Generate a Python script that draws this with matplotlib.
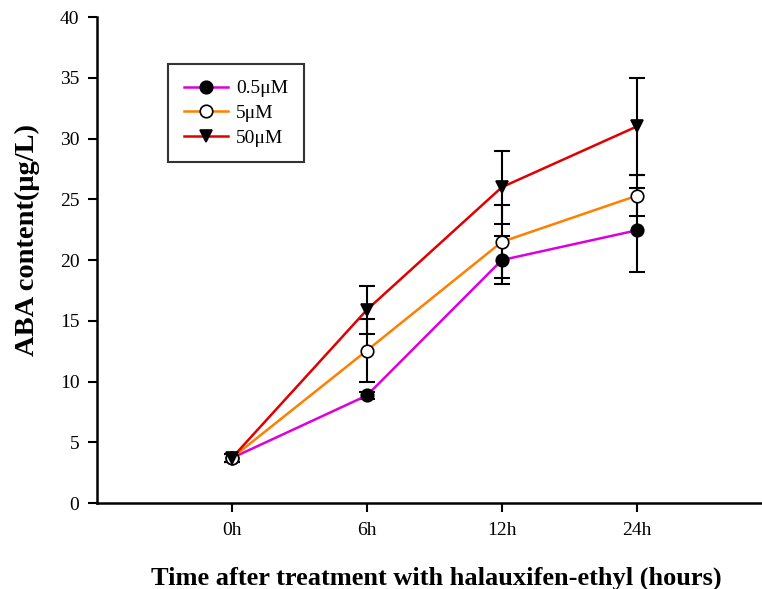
import numpy as np
import matplotlib.pyplot as plt

# Data
times = ["0h", "6h", "12h", "24h"]
low_mean = [3.7, 8.85, 20.0, 22.45]     # 0.5 uM
low_err = [0.3, 0.3, 2.0, 3.45]
mid_mean = [3.7, 12.55, 21.5, 25.3]     # 5 uM
mid_err = [0.3, 2.6, 3.0, 1.7]
high_mean = [3.7, 15.9, 26.0, 31.0]     # 50 uM
high_err = [0.3, 1.95, 3.0, 4.0]

plt.rcParams['font.family'] = ['Liberation Serif', 'DejaVu Serif']

fig = plt.figure(figsize=(7.62, 5.89), dpi=100)
ax = fig.add_axes([0.127, 0.146, 0.873, 0.825])

x = np.arange(len(times))
series = [
    (low_mean, low_err, "#dd00dd", "o", "black", "0.5μM"),
    (mid_mean, mid_err, "#ff8000", "o", "white", "5μM"),
    (high_mean, high_err, "#e00000", "v", "black", "50μM"),
]

for mean, err, col, mk, face, lab in series:
    ax.errorbar(x, mean, yerr=err, fmt="none", ecolor="black",
                elinewidth=1.5, capsize=5.5, capthick=1.5, zorder=2)
    ax.plot(x, mean, color=col, lw=1.8, marker=mk, markersize=9,
            markerfacecolor=face, markeredgecolor="black",
            markeredgewidth=1.2, label=lab, zorder=3)

ax.set_xlim(-1, 3.926)
ax.set_ylim(0, 40)
ax.set_xticks(x)
ax.set_xticklabels(times, fontsize=14)
ax.set_yticks(np.arange(0, 41, 5))
ax.tick_params(axis="y", labelsize=14, direction="out", length=6.5, width=1.5, pad=6)
ax.tick_params(axis="x", direction="out", length=6.5, width=1.5, pad=7)

for s in ["top", "right"]:
    ax.spines[s].set_visible(False)
for s in ["left", "bottom"]:
    ax.spines[s].set_linewidth(1.8)

ax.set_ylabel("ABA content(μg/L)", fontsize=20.5, fontweight="bold")
ax.yaxis.set_label_coords(-0.086, 0.541)
ax.set_xlabel("Time after treatment with halauxifen-ethyl (hours)",
              fontsize=19, fontweight="bold", va="center")
ax.xaxis.set_label_coords(0.51, -0.154)

leg = ax.legend(loc="upper left", bbox_to_anchor=(0.107, 0.903), fontsize=14,
                frameon=True, fancybox=False, edgecolor="black",
                handlelength=2.3, handletextpad=0.4, borderpad=0.8,
                labelspacing=0.36, borderaxespad=0)
leg.get_frame().set_linewidth(1.5)

plt.savefig("out.png", dpi=100)
plt.close()
